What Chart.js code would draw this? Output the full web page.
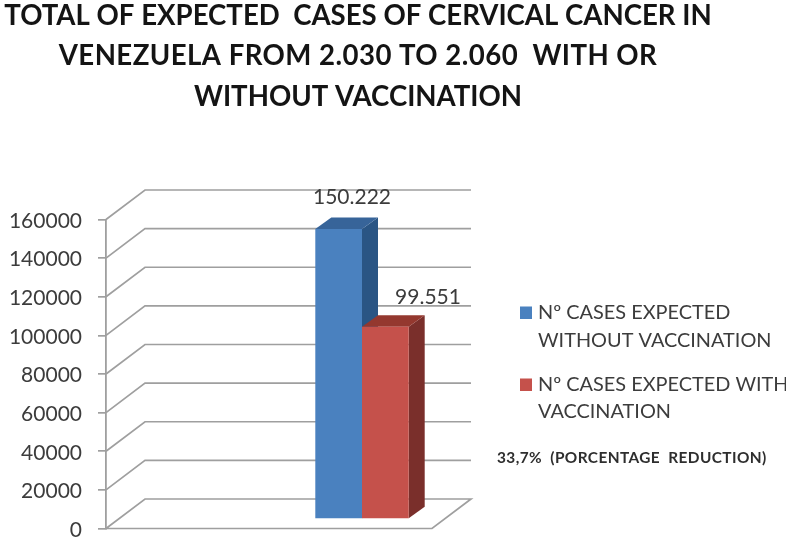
<!DOCTYPE html>
<html><head><meta charset="utf-8">
<style>html,body{margin:0;padding:0;background:#fff}#w{width:786px;height:540px}canvas{display:block;filter:blur(0.35px)}</style>
<script src="https://cdn.jsdelivr.net/npm/chart.js@4"></script></head>
<body><div id="w"><canvas id="c" width="786" height="540"></canvas></div>
<script>
const categories = [''];
const seriesNames = ['Nº CASES EXPECTED WITHOUT VACCINATION', 'Nº CASES EXPECTED WITH VACCINATION'];
const withoutVaccination = [150222];
const withVaccination = [99551];
const valueLabels = ['150.222', '99.551'];
const tickValues = [0, 20000, 40000, 60000, 80000, 100000, 120000, 140000, 160000];
const titleLines = ['TOTAL OF EXPECTED  CASES OF CERVICAL CANCER IN', 'VENEZUELA FROM 2.030 TO 2.060  WITH OR', 'WITHOUT VACCINATION'];
const legendLines = [['Nº CASES EXPECTED', 'WITHOUT VACCINATION'], ['Nº CASES EXPECTED WITH', 'VACCINATION']];
const note = '33,7%  (PORCENTAGE  REDUCTION)';

const GRID = '#9f9f9f', TXT = '#3c3c3c';
const FONT = 'Lato, Carlito, sans-serif';
const WALL = {dx: 39, dy: -29.5};
const BAR = {dx: 16, dy: -11.5, sx: 93, sy: -9.5};
const FACES = [{front: '#4a81bf', side: '#2a5584', top: '#376499'}, {front: '#c5514b', side: '#7a2f2b', top: '#94382f'}];

const scene = {
  id: 'scene',
  beforeDatasetsDraw(chart) {
    const {ctx, chartArea: a} = chart, y = chart.scales.y;
    ctx.save();
    ctx.strokeStyle = GRID; ctx.lineWidth = 1.7; ctx.lineJoin = 'miter';
    tickValues.forEach(v => {
      const p = y.getPixelForValue(v);
      ctx.beginPath();
      ctx.moveTo(a.left, p);
      ctx.lineTo(a.left + WALL.dx, p + WALL.dy);
      ctx.lineTo(a.right + WALL.dx, p + WALL.dy);
      if (v === 0) { ctx.lineTo(a.right, p); ctx.lineTo(a.left, p); }
      ctx.stroke();
    });
    ctx.restore();
    ctx.save();
    ctx.translate(BAR.sx, BAR.sy);
    // side and top faces: first series, then second, so the second covers the first
    [0, 1].forEach(i => {
      const f = FACES[i];
      chart.getDatasetMeta(i).data.forEach(b => {
        const {x, y: t, base, width} = b.getProps(['x', 'y', 'base', 'width'], true);
        const r = x + width / 2, l = x - width / 2;
        ctx.fillStyle = f.side;
        ctx.beginPath();
        ctx.moveTo(r, t); ctx.lineTo(r + BAR.dx, t + BAR.dy); ctx.lineTo(r + BAR.dx, base + BAR.dy); ctx.lineTo(r, base);
        ctx.closePath(); ctx.fill();
        ctx.fillStyle = f.top;
        ctx.beginPath();
        ctx.moveTo(l, t); ctx.lineTo(l + BAR.dx, t + BAR.dy); ctx.lineTo(r + BAR.dx, t + BAR.dy); ctx.lineTo(r, t);
        ctx.closePath(); ctx.fill();
      });
    });
  },
  afterDatasetsDraw(chart) {
    const {ctx} = chart;
    ctx.restore();
    ctx.save();
    ctx.textBaseline = 'middle'; ctx.textAlign = 'center';
    ctx.fillStyle = TXT; ctx.font = '21px ' + FONT;
    const labelPos = [[352, 197], [428, 297]];
    valueLabels.forEach((t, i) => ctx.fillText(t, labelPos[i][0], labelPos[i][1]));
    ctx.fillStyle = '#141414'; ctx.font = 'bold 27.6px ' + FONT;
    const titleY = [16, 56, 97];
    const titleSpacing = ['0px', '0.45px', '0px'];
    titleLines.forEach((t, i) => { ctx.letterSpacing = titleSpacing[i]; ctx.fillText(t, 358, titleY[i]); });
    ctx.letterSpacing = '0px';
    ctx.textAlign = 'left';
    ctx.font = '19.9px ' + FONT;
    const legendY = [[313, 341], [385, 412]];
    legendLines.forEach((lines, i) => {
      ctx.fillStyle = FACES[i].front;
      ctx.fillRect(520, legendY[i][0] - 6.5, 12, 12.5);
      ctx.fillStyle = TXT;
      lines.forEach((t, j) => ctx.fillText(t, 538, legendY[i][j]));
    });
    ctx.fillStyle = '#2e2e2e'; ctx.font = 'bold 15.4px ' + FONT;
    ctx.letterSpacing = '0.4px';
    ctx.fillText(note, 497, 458);
    ctx.restore();
  }
};

new Chart(document.getElementById('c'), {
  type: 'bar',
  data: {
    labels: categories,
    datasets: [
      {label: seriesNames[0], data: withoutVaccination, backgroundColor: FACES[0].front, clip: false},
      {label: seriesNames[1], data: withVaccination, backgroundColor: FACES[1].front, clip: false}
    ]
  },
  options: {
    responsive: false, animation: false,
    layout: {padding: {top: 219.5, bottom: 11.5, right: 354, left: 0}},
    datasets: {bar: {barPercentage: 1, categoryPercentage: 0.2865}},
    plugins: {legend: {display: false}, title: {display: false}, tooltip: {enabled: false}},
    scales: {
      x: {display: false, grid: {display: false}, ticks: {display: false}},
      y: {
        min: 0, max: 160000,
        afterFit(s) { s.width = 106; s.paddingTop = 0; s.paddingBottom = 0; },
        afterBuildTicks(s) { s.ticks = tickValues.map(v => ({value: v})); },
        border: {display: true, color: GRID, width: 1.8},
        grid: {drawOnChartArea: false, drawTicks: true, tickLength: 8, color: GRID, lineWidth: 1.7},
        ticks: {padding: 16, labelOffset: 1.5, color: TXT, font: {family: FONT, size: 21}, callback: v => String(v)}
      }
    }
  },
  plugins: [scene]
});
</script></body></html>
